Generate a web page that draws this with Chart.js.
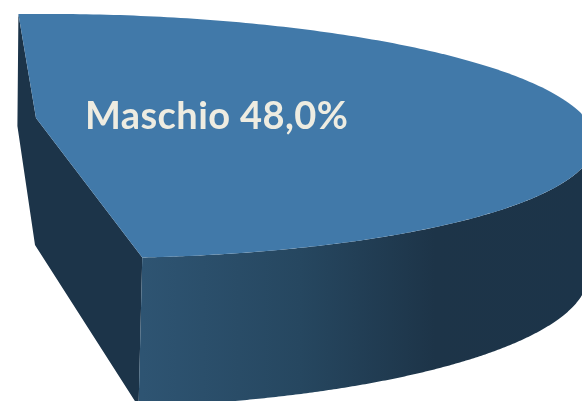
<!DOCTYPE html>
<html>
<head>
<meta charset="utf-8">
<style>html,body{margin:0;padding:0;background:#fff}canvas{display:block}</style>
<script src="https://cdn.jsdelivr.net/npm/chart.js@4"></script>
</head>
<body>
<canvas id="c" width="582" height="401"></canvas>
<script>
const categories = ['Maschio', 'Altro'];
const shares = [48.0, 52.0];
const sliceColors = ['#4179A9', 'rgba(0,0,0,0)'];

// 3D view of the pie plane: rim ellipses, apex and wall corners
const rimTop = {cx: 68, cy: 136, a: 527, b: 122, shear: 0.010, from: -95.4, to: 81.9};
const rimBase = {cx: 68, cy: 275, a: 520, b: 133, shear: 0, from: -95.4, to: 82.2};
const apexTop = [36, 118];
const apexBase = [35, 245];
const startDrop = [-1, 112];
const wallDark = '#1C3449';
const frontStops = [[142, '#2E5472'], [300, '#264760'], [435, '#1D3448'], [582, '#1C3449']];
const labelColor = '#EEECE1';
const labelFont = 'bold 38px Lato';
const labelSpacing = '0.4px';
const labelPos = [85, 129];

const rad = d => d * Math.PI / 180;
function rimPoint(rim, arc, theta) {
  const f = (theta - arc.startAngle) / (arc.endAngle - arc.startAngle);
  const phi = rad(rim.from + f * (rim.to - rim.from));
  const dx = rim.a * Math.cos(phi);
  return [rim.cx + dx, rim.cy + rim.b * Math.sin(phi) + rim.shear * dx];
}
const rimAngleZero = (rim, arc) => arc.startAngle + (0 - rim.from) / (rim.to - rim.from) * (arc.endAngle - arc.startAngle);

const pie3d = {
  id: 'pie3d',
  beforeDatasetsDraw(chart) {
    const ctx = chart.ctx;
    const arc = chart.getDatasetMeta(0).data[0];
    const n = 240;
    const s = arc.startAngle, e = arc.endAngle;
    const pA = rimPoint(rimTop, arc, s), pF = rimPoint(rimTop, arc, e), qF = rimPoint(rimBase, arc, e);
    ctx.save();
    // inner walls
    ctx.fillStyle = wallDark;
    ctx.beginPath();
    ctx.moveTo(pA[0], pA[1]);
    ctx.lineTo(apexTop[0], apexTop[1]);
    ctx.lineTo(pF[0], pF[1]);
    ctx.lineTo(qF[0], qF[1]);
    ctx.lineTo(apexBase[0], apexBase[1]);
    ctx.lineTo(pA[0] + startDrop[0], pA[1] + startDrop[1]);
    ctx.closePath();
    ctx.fill();
    // outer curved wall
    const g = ctx.createLinearGradient(frontStops[0][0], 0, frontStops[frontStops.length - 1][0], 0);
    const span = frontStops[frontStops.length - 1][0] - frontStops[0][0];
    frontStops.forEach(st => g.addColorStop((st[0] - frontStops[0][0]) / span, st[1]));
    ctx.fillStyle = g;
    ctx.beginPath();
    const t0 = rimAngleZero(rimTop, arc), b0 = rimAngleZero(rimBase, arc);
    for (let i = 0; i <= n; i++) {
      const p = rimPoint(rimTop, arc, e + (t0 - e) * i / n);
      i ? ctx.lineTo(p[0], p[1]) : ctx.moveTo(p[0], p[1]);
    }
    for (let i = 0; i <= n; i++) {
      const p = rimPoint(rimBase, arc, b0 + (e - b0) * i / n);
      ctx.lineTo(p[0], p[1]);
    }
    ctx.closePath();
    ctx.fill();
    // top face
    ctx.fillStyle = arc.options.backgroundColor;
    ctx.beginPath();
    ctx.moveTo(apexTop[0], apexTop[1]);
    for (let i = 0; i <= n; i++) {
      const p = rimPoint(rimTop, arc, s + (e - s) * i / n);
      ctx.lineTo(p[0], p[1]);
    }
    ctx.closePath();
    ctx.fill();
    // label
    ctx.fillStyle = labelColor;
    ctx.font = labelFont;
    ctx.letterSpacing = labelSpacing;
    ctx.textBaseline = 'alphabetic';
    ctx.textAlign = 'left';
    ctx.fillText(categories[0] + ' ' + shares[0].toFixed(1).replace('.', ',') + '%', labelPos[0], labelPos[1]);
    ctx.restore();
    return false;
  }
};

new Chart(document.getElementById('c'), {
  type: 'pie',
  data: {labels: categories, datasets: [{data: shares, backgroundColor: sliceColors, borderWidth: 0}]},
  options: {
    responsive: false,
    animation: false,
    layout: {padding: 0},
    plugins: {legend: {display: false}, tooltip: {enabled: false}, title: {display: false}}
  },
  plugins: [pie3d]
});
</script>
</body>
</html>
